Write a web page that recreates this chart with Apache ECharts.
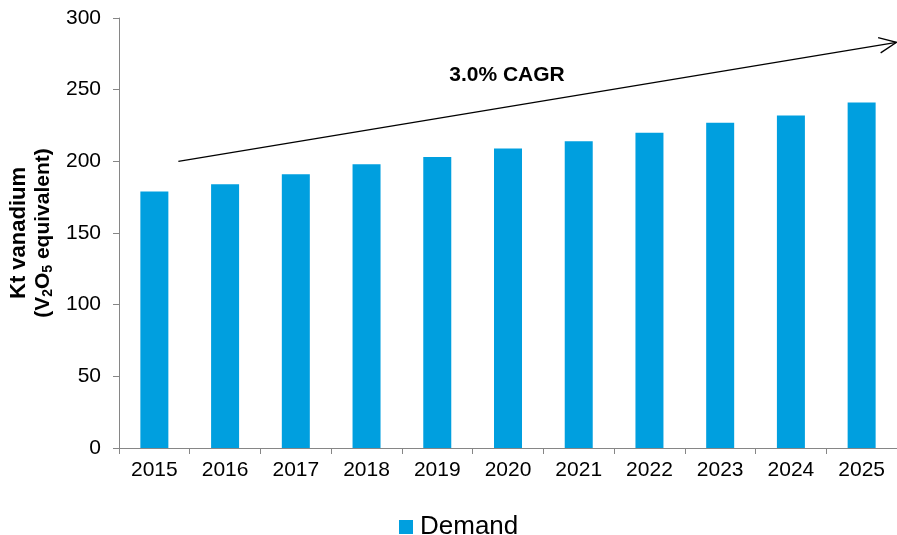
<!DOCTYPE html>
<html>
<head>
<meta charset="utf-8">
<script src="https://cdn.jsdelivr.net/npm/echarts@6/dist/echarts.min.js"></script>
<style>
  html, body { margin: 0; padding: 0; background: #fff; }
  #chart { width: 897px; height: 535px; }
</style>
</head>
<body>
<div id="chart"></div>
<script>
// data
var years = ['2015', '2016', '2017', '2018', '2019', '2020', '2021', '2022', '2023', '2024', '2025'];
var demand = [179, 184, 191, 198, 203, 209, 214, 220, 227, 232, 241];
var yTicks = [0, 50, 100, 150, 200, 250, 300];
// trend arrow runs from 200 up to ~283 on the value axis
var arrowFrom = 200;
var arrowTo = 283;
var cagrLabel = '3.0% CAGR';

var chart = echarts.init(document.getElementById('chart'));
var font = 'Liberation Sans, Arial, sans-serif';
var axisGrey = '#868686';

var option = {
    backgroundColor: '#fff',
    animation: false,
    textStyle: { fontFamily: font },
    grid: {
        left: 118,
        top: 18,
        width: 786,
        height: 430,
        containLabel: false
    },
    legend: {
        data: ['Demand'],
        left: 394,
        top: 509,
        itemWidth: 14,
        itemHeight: 14,
        itemGap: 10,
        icon: 'rect',
        textStyle: { fontSize: 26, color: '#000', fontFamily: font, padding: [0, 0, 0, 2] }
    },
    xAxis: {
        type: 'category',
        data: years,
        axisLine: { lineStyle: { color: axisGrey, width: 1 } },
        axisTick: { show: true, length: 6, alignWithLabel: false, lineStyle: { color: axisGrey } },
        axisLabel: { fontSize: 21, color: '#000', margin: 12, fontFamily: font }
    },
    yAxis: {
        type: 'value',
        min: yTicks[0],
        max: yTicks[yTicks.length - 1],
        interval: 50,
        splitLine: { show: false },
        axisLine: { show: true, lineStyle: { color: axisGrey, width: 1 } },
        axisTick: { show: true, length: 6, lineStyle: { color: axisGrey } },
        axisLabel: { fontSize: 21, color: '#000', margin: 18, fontFamily: font },
        name: '{b|Kt vanadium}\n{a|(V}{s|2}{a|O}{s|5}{a| equivalent)}',
        nameLocation: 'middle',
        nameRotate: 90,
        nameGap: 64,
        nameTextStyle: {
            rich: {
                b: { fontSize: 22, fontWeight: 'bold', color: '#000', lineHeight: 24, fontFamily: font },
                a: { fontSize: 21, fontWeight: 'bold', color: '#000', lineHeight: 24, fontFamily: font },
                s: { fontSize: 14, fontWeight: 'bold', color: '#000', lineHeight: 14, verticalAlign: 'bottom', fontFamily: font }
            }
        }
    },
    series: [{
        name: 'Demand',
        type: 'bar',
        data: demand,
        barWidth: 28,
        itemStyle: { color: '#009FDF' }
    }]
};

chart.setOption(option);

// CAGR arrow annotation, placed through the value axis
var y0 = chart.convertToPixel({ yAxisIndex: 0 }, arrowFrom);
var y1 = chart.convertToPixel({ yAxisIndex: 0 }, arrowTo);
var x0 = chart.convertToPixel({ xAxisIndex: 0 }, years[0]) + 24;
var x1 = 896.5;
var ang = Math.atan2(y1 - y0, x1 - x0);
var headLen = 19, headAng = 0.42;

chart.setOption({
    graphic: [
        {
            type: 'line',
            shape: { x1: x0, y1: y0, x2: x1, y2: y1 },
            style: { stroke: '#000', lineWidth: 1.3 }
        },
        {
            type: 'polyline',
            shape: {
                points: [
                    [x1 - headLen * Math.cos(ang - headAng), y1 - headLen * Math.sin(ang - headAng)],
                    [x1, y1],
                    [x1 - headLen * Math.cos(ang + headAng), y1 - headLen * Math.sin(ang + headAng)]
                ]
            },
            style: { stroke: '#000', lineWidth: 1.3, fill: null }
        },
        {
            type: 'text',
            x: 507,
            y: 75,
            style: {
                text: cagrLabel,
                font: 'bold 21px ' + font,
                fill: '#000',
                textAlign: 'center',
                textVerticalAlign: 'middle'
            }
        }
    ]
});
</script>
</body>
</html>
